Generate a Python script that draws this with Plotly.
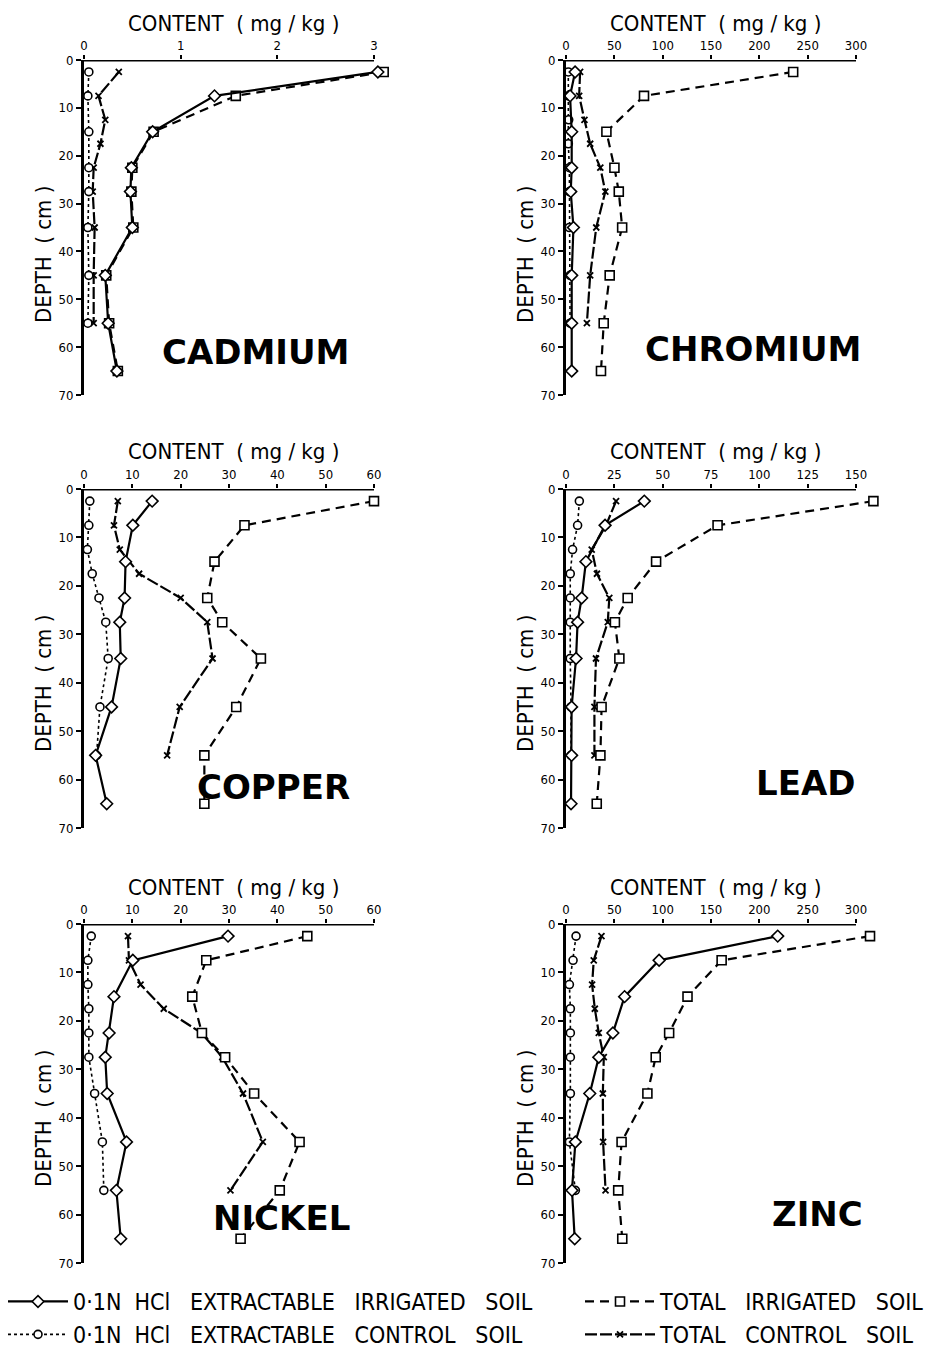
import plotly.graph_objects as go

# ---------------- data ----------------
elements = ["CADMIUM", "CHROMIUM", "COPPER", "LEAD", "NICKEL", "ZINC"]
x_max = [3, 300, 60, 150, 60, 300]
x_step = [1, 50, 10, 25, 10, 50]
depth_ticks = [0, 10, 20, 30, 40, 50, 60, 70]

depth_main = [2.5, 7.5, 15, 22.5, 27.5, 35, 45, 55, 65]
depth_ctl = [2.5, 7.5, 12.5, 17.5, 22.5, 27.5, 35, 45, 55]
depth_cd_ctl = [2.5, 7.5, 15, 22.5, 27.5, 35, 45, 55]

# 0.1N HCl extractable, irrigated soil
ext_irr = {
    "CADMIUM": [3.04, 1.35, 0.71, 0.49, 0.48, 0.50, 0.22, 0.25, 0.34],
    "CHROMIUM": [9.4, 4.2, 5.9, 5.9, 4.9, 7.7, 5.9, 5.9, 5.9],
    "COPPER": [14.1, 10.1, 8.6, 8.4, 7.4, 7.6, 5.7, 2.4, 4.7],
    "LEAD": [40.5, 20.2, 10.3, 8.1, 6.0, 5.2, 2.9, 2.9, 2.6],
    "NICKEL": [29.8, 10.1, 6.2, 5.2, 4.4, 4.8, 8.8, 6.7, 7.6],
    "ZINC": [219, 96.3, 60.6, 48.5, 33.9, 24.6, 9.7, 6.2, 9.0],
}
# 0.1N HCl extractable, control soil
ext_ctl = {
    "CADMIUM": [0.05, 0.04, 0.05, 0.05, 0.05, 0.04, 0.05, 0.04],
    "CHROMIUM": [2.4, 2.4, 2.8, 2.4, 3.5, 3.5, 3.5, 4.2, 4.2],
    "COPPER": [1.2, 1.0, 0.7, 1.7, 3.1, 4.5, 5.0, 3.3, 2.6],
    "LEAD": [6.9, 6.0, 3.4, 2.2, 2.2, 2.2, 2.2, 2.6, 2.6],
    "NICKEL": [1.5, 0.8, 0.8, 1.0, 1.0, 1.0, 2.2, 3.8, 4.1],
    "ZINC": [10.4, 7.3, 3.5, 4.5, 4.5, 4.5, 4.5, 3.5, 9.7],
}
# total, irrigated soil
tot_irr = {
    "CADMIUM": [3.10, 1.57, 0.72, 0.50, 0.49, 0.51, 0.23, 0.26, 0.35],
    "CHROMIUM": [235, 80.7, 41.8, 50.1, 54.6, 58.1, 45.2, 39.0, 36.2],
    "COPPER": [60.0, 33.2, 27.0, 25.5, 28.6, 36.6, 31.5, 24.9, 24.9],
    "LEAD": [159, 78.4, 46.6, 31.9, 25.3, 27.6, 18.4, 17.8, 15.9],
    "NICKEL": [46.2, 25.3, 22.4, 24.4, 29.2, 35.2, 44.6, 40.5, 32.4],
    "ZINC": [314.5, 161, 125.7, 106.7, 92.8, 84.2, 57.5, 54, 58.2],
}
# total, control soil
tot_ctl = {
    "CADMIUM": [0.36, 0.15, 0.22, 0.17, 0.10, 0.09, 0.11, 0.10, 0.10],
    "CHROMIUM": [14.6, 13.6, 19.1, 25.0, 35.5, 40.7, 31.3, 25.0, 21.6],
    "COPPER": [7.0, 6.2, 7.4, 11.4, 20.0, 25.5, 26.6, 19.8, 17.2],
    "LEAD": [25.9, 20.7, 13.3, 16.0, 22.4, 21.6, 15.5, 14.7, 14.7],
    "NICKEL": [9.1, 9.3, 11.7, 16.5, 24.3, 28.6, 32.9, 37.0, 30.3],
    "ZINC": [36.7, 28.7, 27.0, 29.8, 33.9, 39.1, 38.1, 38.4, 40.9],
}

legend_names = {
    "ext_irr": "0·1N  HCl   EXTRACTABLE   IRRIGATED   SOIL",
    "tot_irr": "TOTAL   IRRIGATED   SOIL",
    "ext_ctl": "0·1N  HCl   EXTRACTABLE   CONTROL   SOIL",
    "tot_ctl": "TOTAL   CONTROL   SOIL",
}

# ---------------- layout helpers ----------------
W, H = 934, 1358
col_left = [84, 566]
row_top = [60, 489, 924]
row_bot = [395, 828, 1263]
span = 290      # pixels from 0 to x_max
ext = 1.08      # extra room to the right of the last tick

COND = "DejaVu Sans Condensed, DejaVu Sans, sans-serif"
BOLD = "DejaVu Sans, Arial, sans-serif"

def px(x):
    return x / W

def py(y):
    return 1 - y / H

fig = go.Figure()
shapes = []
annotations = []

styles = {
    "ext_irr": dict(line=dict(color="black", width=2.2, dash="solid"),
                    marker=dict(symbol="diamond", size=9, color="white",
                                line=dict(color="black", width=1.6))),
    "ext_ctl": dict(line=dict(color="black", width=1.6, dash="dot"),
                    marker=dict(symbol="circle", size=8, color="white",
                                line=dict(color="black", width=1.6))),
    "tot_irr": dict(line=dict(color="black", width=2.2, dash="9px,6px"),
                    marker=dict(symbol="square", size=9, color="white",
                                line=dict(color="black", width=1.6))),
    "tot_ctl": dict(line=dict(color="black", width=2.2, dash="12px,3px"),
                    marker=dict(symbol="x-thin", size=6, color="black",
                                line=dict(color="black", width=1.8))),
}
which_legend = {"ext_irr": "legend", "ext_ctl": "legend",
                "tot_irr": "legend2", "tot_ctl": "legend2"}
rank = {"ext_irr": 1, "ext_ctl": 2, "tot_irr": 1, "tot_ctl": 2}

for i, el in enumerate(elements):
    r, c = divmod(i, 2)
    ax = "" if i == 0 else str(i + 1)
    xa, ya = "x" + ax, "y" + ax
    L = col_left[c]
    fig.layout["xaxis" + ax] = dict(
        domain=[px(L), px(L + span * ext)],
        range=[0, x_max[i] * ext], side="top", anchor=ya,
        showline=False, showgrid=False, zeroline=False,
        ticks="outside", ticklen=4, tickwidth=2, tickcolor="black",
        tickvals=list(range(0, x_max[i] + 1, x_step[i])),
        tickfont=dict(family=COND, size=13, color="black"),
    )
    fig.layout["yaxis" + ax] = dict(
        domain=[py(row_bot[r]), py(row_top[r])],
        range=[70, 0], anchor=xa,
        showline=True, linewidth=3, linecolor="black",
        showgrid=False, zeroline=False,
        ticks="outside", ticklen=5, tickwidth=2, tickcolor="black",
        tickvals=depth_ticks,
        tickfont=dict(family=COND, size=13, color="black"),
    )
    # top axis line from 0 to last tick
    shapes.append(dict(type="line", xref=xa, yref=ya, x0=0, x1=x_max[i],
                       y0=0, y1=0, line=dict(color="black", width=3)))

    series = [
        ("tot_ctl", tot_ctl[el], depth_ctl),
        ("ext_ctl", ext_ctl[el], depth_cd_ctl if el == "CADMIUM" else depth_ctl),
        ("tot_irr", tot_irr[el], depth_main),
        ("ext_irr", ext_irr[el], depth_main),
    ]
    for key, vals, dep in series:
        fig.add_trace(go.Scatter(
            x=vals, y=dep[:len(vals)], mode="lines+markers",
            xaxis=xa, yaxis=ya, cliponaxis=False,
            name=legend_names[key], legendrank=rank[key],
            legend=which_legend[key],
            showlegend=(i == 0), **styles[key]))

    # title "CONTENT (mg/kg)"
    annotations.append(dict(
        text="CONTENT  ( mg / kg )", xref="paper", yref="paper",
        x=px(L + 149), y=py(row_top[r] - 37),
        showarrow=False, xanchor="center", yanchor="middle",
        font=dict(family=COND, size=22, color="black")))
    # depth title
    annotations.append(dict(
        text="DEPTH  ( cm )", xref="paper", yref="paper",
        x=px(L - 41), y=py(row_top[r] + 195), textangle=-90,
        showarrow=False, xanchor="center", yanchor="middle",
        font=dict(family=COND, size=22, color="black")))

# element names
name_pos = [(255, 352), (753, 349), (273, 787), (805, 783), (281, 1218), (817, 1214)]
for el, (nx, ny) in zip(elements, name_pos):
    annotations.append(dict(
        text="<b>%s</b>" % el, xref="paper", yref="paper",
        x=px(nx), y=py(ny), showarrow=False,
        xanchor="center", yanchor="middle",
        font=dict(family=BOLD, size=34, color="black")))

legend_common = dict(orientation="v", xanchor="left", yanchor="bottom",
                     y=py(1356), traceorder="normal",
                     font=dict(family=COND, size=23, color="black"),
                     bgcolor="rgba(0,0,0,0)")

fig.update_layout(
    width=W, height=H,
    margin=dict(l=0, r=0, t=0, b=0, autoexpand=False),
    paper_bgcolor="white", plot_bgcolor="white",
    shapes=shapes, annotations=annotations,
    showlegend=True,
    legend=dict(x=px(3), itemwidth=60, **legend_common),
    legend2=dict(x=px(580), itemwidth=70, **legend_common),
)

fig.write_html("out.html")
